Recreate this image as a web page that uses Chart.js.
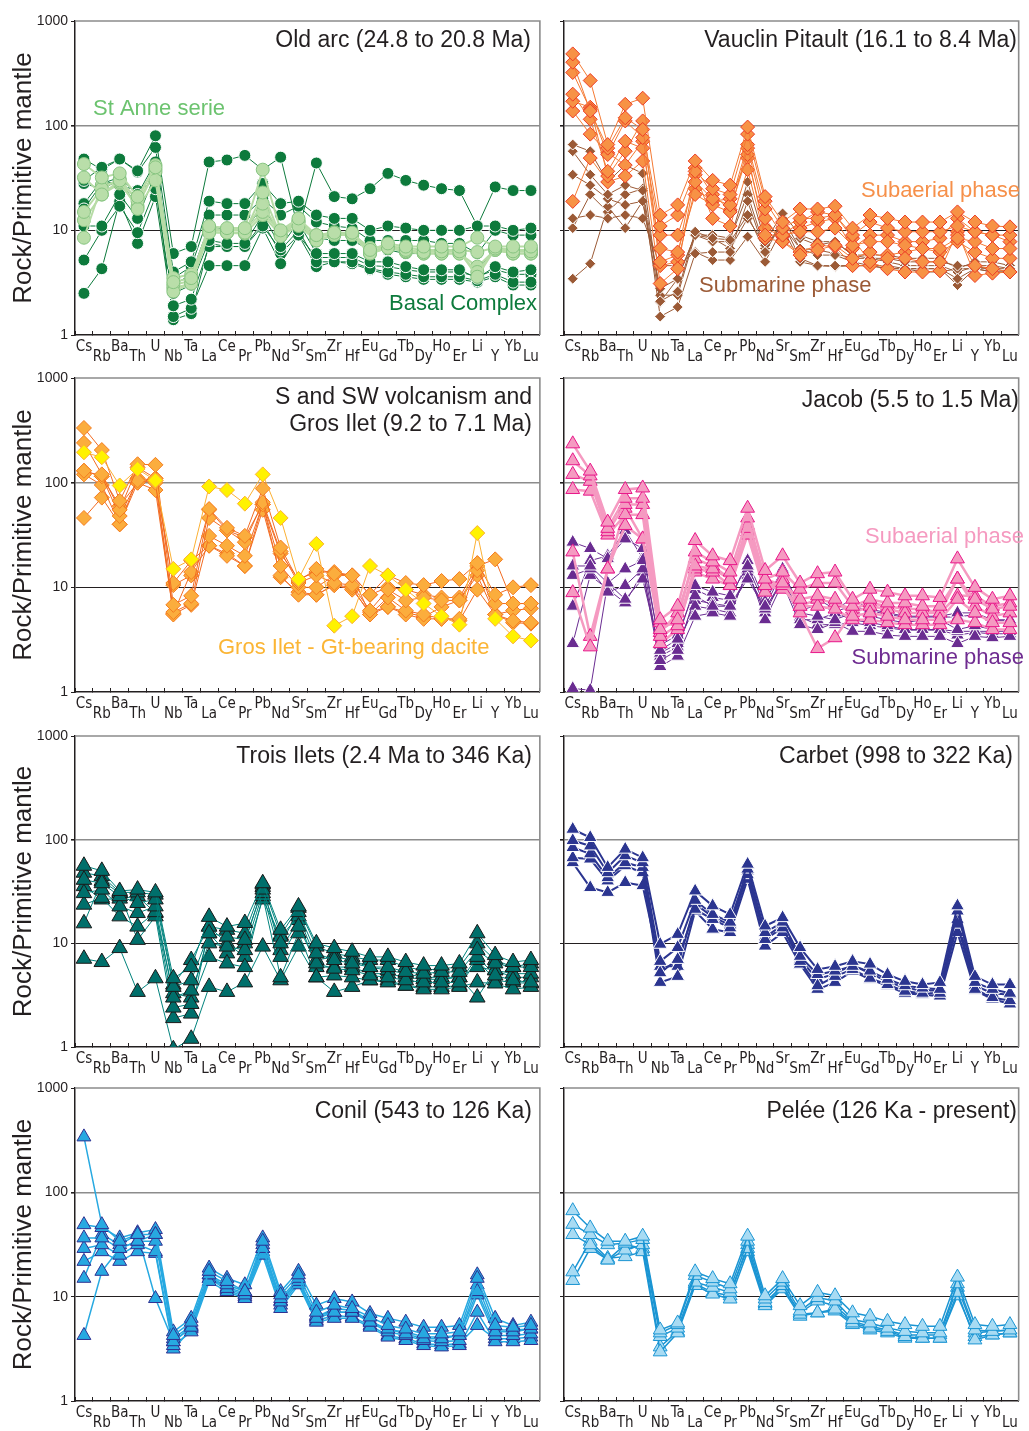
<!DOCTYPE html>
<html>
<head>
<meta charset="utf-8">
<script src="https://cdn.jsdelivr.net/npm/chart.js@4.4.1/dist/chart.umd.min.js"></script>
<style>
  body { margin: 0; background: #fff; }
  canvas { position: absolute; }
</style>
</head>
<body>
<script>
const elements = ['Cs','Rb','Ba','Th','U','Nb','Ta','La','Ce','Pr','Pb','Nd','Sr','Sm','Zr','Hf','Eu','Gd','Tb','Dy','Ho','Er','Li','Y','Yb','Lu'];
const yTicks = [1, 10, 100, 1000];

// Old arc
const basalComplex = [
  [30,40,48,37,80,6,7,45,47,52,38,50,10,44,21,20,25,35,30,27,25,24,11,26,24,24],
  [48,38,48,36,62,4,5,19,18,18,28,18,19,14,13,13,10,11,10.5,10,10,10,11,11,10,10.5],
  [16,28,32,22,45,3.5,4.5,14,14,14,20,14,17,12,11,10.5,8,8,8,8,7.5,7.5,6,10,9,9],
  [11,11,22,13,35,2.5,3,8,7.5,7.5,14,7,12,6,6,6,5,5,4.5,4.2,4.2,4.2,3.5,4.5,4,4.2],
  [5.2,10,17,9.5,25,1.9,2.2,7,7,7,11,6.5,10,5,5,5,4.3,4,3.8,3.6,3.6,3.6,3.3,3.8,3.2,3.2],
  [2.5,4.3,19,7.5,21,1.5,1.8,4.6,4.6,4.6,10.5,4.8,9,4.5,5,4.8,4.2,3.8,3.6,3.4,3.4,3.4,3.2,3.6,3,3],
  [28,25,30,17,40,3,3.8,11,10,10,17,9,11,8.5,8,8,6.5,6.5,6,6,6,6,4,7,6,6],
  [18,30,27,24,30,1.4,1.6,7.5,7,7,12,6,9,5.5,5.5,5.5,4.6,4.5,4.2,4,4,4,3.6,4.2,3.8,3.8]
];
const stAnne = [
  [43,32,35,21,40,3.2,3.5,11,10.5,10.5,38,10,13,9,9.5,9.5,6.5,7.5,7,7,7,7,8.5,7,7,7],
  [32,22,30,16,30,2.6,3.1,9.5,9.5,9.5,23,8.8,11,8,9,9,6,6.8,6.5,6.2,6.3,6.3,3.6,6.7,6.3,6.3],
  [15,25,31,19,36,3.5,3.8,10,10,10,18,9,12,8.5,9.3,9.2,6.8,7,6.8,6.5,6.5,6.5,6.2,6.8,6.5,6.5],
  [8.5,27,29,20,42,3,3.3,10.5,10,10,15,9.5,12.5,9,9.6,9.3,6.2,7.2,6.3,6,6,6,4,6.5,6,6],
  [12.5,22,28,17,38,2.8,3.1,9.7,9.5,9.3,14,9,12,8,9,9,6,6.8,6.2,6,6,6,4.5,6.5,6,6]
];

// Vauclin Pitault
const vpSubaerial = [
  [485,270,66,160,183,14,17.5,46,30,27,97,21,12,16,16,17,10.5,14,13,12,12,12,15,12,11,10.8],
  [404,138,61,119,92,11,14,36.6,25,22,83,19,10.5,13,13,14,9,12,10.5,9.7,9.7,9.7,11,9.7,9,9],
  [322,143,53,111,77,9,9,29,20,17.5,66,16,9,9.7,9.7,10.5,7.2,7.8,7.8,7.2,6.7,6.7,8.4,7.8,6.7,6.7],
  [200,115,36.6,71,61,6.7,6.2,22,17.5,15,61,13,7.8,5.8,6.5,7.2,5.4,6.2,5.4,5.4,5,5,9,4.6,4.3,4],
  [171,150,33,57,111,5,5.8,39.4,22,15.7,53,9,9,12,15,14,8.4,5,4.3,4,4,4.1,9.7,3.7,3.9,4],
  [18.9,49,29,33,46,3.1,4.3,34,13,11,38,8.4,7.8,6.2,7.2,7,4.6,4.6,5.8,6.2,6.7,6.2,7.8,6.2,5.4,5.4],
  [138,83,55,42,71,4.6,5,25,19,20,49,10.5,8.7,10.5,12,13,6.7,9,9,7.8,7.8,8.4,13,9.7,9,7.8]
];
const vpSubmarine = [
  [66,57,29,42,35,2.1,2.6,9.7,8.4,8.1,29,7.8,14.5,9,7.8,7.8,5.8,5.4,5.4,5,5,5,4.6,4.6,4.6,4.3],
  [57,34,22,27,24,1.5,1.85,6,6.2,6.2,19,6.2,13,6.7,5.8,5.8,5,4.6,4.6,4.3,4.3,4.3,3.45,4.3,4,4],
  [34,27,20,17.5,19,2.06,3.45,9,7.8,7.8,14,6.2,12,5.4,4.6,4.6,4.6,4.6,4.3,4.3,4.3,4.3,3,4.3,4.3,4],
  [13,14,13,14,13,4.6,4.6,6.2,5.2,5.2,8.7,5,10.5,5,4.6,4.5,4.6,4.6,4.3,4.3,4,4,4.3,4.3,4,4],
  [3.45,4.8,16.9,10.5,19,2.77,3.45,9,8.4,6.7,13,7.2,11,6.7,6.5,6,5.4,5.4,5,4.6,4.6,4.6,4,4.5,4.3,4.3],
  [10.5,22,15,22,25,2.4,2.4,9,9,8.4,22,6.7,12,8.4,7.2,7.8,5.8,5.8,5.8,5.4,5.4,5.4,4.3,5,5,4.6]
];

// S and SW volcanism and Gros Ilet
const sswVolcanism = [
  [333,205,67,150,148,6.8,8.3,56,37,31,88,24,11.5,15,13.5,13,8.5,13,11,10.5,11.5,12,17,8.5,10,10.5],
  [240,120,55,140,110,5.8,7,46,35,27,65,22,11,13,11,10.5,6,9.5,7.5,8,7.5,7.5,14.5,7,7,7],
  [130,115,48,105,100,5.5,6.8,31,25,20,62,16,10,10,13,13,5.5,8,6,5.5,5,5,17,5.5,4.8,4.6],
  [120,95,40,100,85,5.6,14,25,20,16,55,13,8.5,8.5,10.5,10,5.5,6.5,5.5,5,5,4.8,9.5,5.5,4.6,4.5],
  [46,72,40,110,105,11,18,25,21,16,62,12.5,9,8.5,10.5,9.5,5.8,6.5,5.8,5.2,6.5,7.5,13,5.5,6,6.3],
  [130,115,60,100,110,10.5,13,55,35,30,62,21,12,14,14,13,8.5,10,9.5,8.5,8,8,16,18.5,7,7]
];
const grosIletDacite = [
  [195,175,94,135,105,15,18.5,92,85,63,120,46,12,26,4.3,5.3,16,13,9.5,7,5.3,4.4,33,5,3.4,3.1]
];

// Jacob
const jacobSubaerial = [
  [235,129,42,86,89,4.9,6.6,28,20,18,57,14.5,20,11,13.5,14,7.7,9.6,9,8.3,8.3,8,18.7,10,7.7,8.3],
  [162,116,36.6,71,71,3.95,4.9,21.8,17.5,14,46,12,14,9.6,11,11,6.6,7.7,7.1,7.1,6.6,6.6,12,7.7,6.2,6.6],
  [120,103,34,62,62,3.4,4.3,16,15,12,36.6,10.4,11,7.7,8.3,7.7,5.3,5.7,5.3,4.9,4.9,4.9,7.7,5.7,4.6,4.6],
  [86,83,31.6,49.5,49.5,2.9,3.95,15,14,10.4,31.6,9,12,6.6,6.6,6.2,4.9,4.9,4.6,4.4,4.4,4.4,4.9,4.6,3.95,3.95],
  [8.9,2.7,15,39,29,3.7,5.7,18.7,16,12,39,12,10.4,5.7,2.6,3.3,5.7,6.6,6.2,5.7,5.7,5.7,8.3,8.3,6.6,7.1],
  [21.8,3.4,15,57,29,4.6,4.3,14,12,10.4,34,10.4,9.6,6.6,7.7,7.1,6.2,7.1,6.6,6.2,6.2,5.7,12,6.6,5.3,5.7]
];
const jacobSubmarine = [
  [27,23.5,18.8,29,23.5,2.5,3.2,10.4,9,8.3,16,6.6,14,6.6,7.7,6.2,7.7,6.2,5.7,5.3,5.3,5.3,5.7,5.7,4.9,4.9],
  [16,16,11,15,18,2,2.5,8.3,6.6,6.6,12,6.2,12,5.7,5.3,4.9,5.7,5.3,4.9,4.6,4.9,4.9,3.95,4.3,3.95,3.95],
  [13,15,9,10.4,15,1.75,2.2,5.3,5.7,5.3,15,4.9,11,4.4,3.95,4.6,3.8,3.8,3.5,3.4,3.4,3.4,2.9,3.4,3.3,3.4],
  [1.08,1.04,11,7.7,12,2.35,2.9,6.6,6.2,5.7,14,5.7,12,4.9,4.9,5.7,4.9,4.6,4.3,3.95,3.95,3.95,3.8,3.8,3.8,3.8],
  [2.9,13,9.6,7.1,14,2.2,2.7,7.5,7,6.6,13,6.4,11,5.2,4.4,4.4,4.6,4.3,4.1,3.9,3.9,3.9,3.5,3.7,3.6,3.6],
  [6.6,18,20,35,19,2.8,3.5,9.5,8,7.5,18,7.3,15,6,6.8,5.9,6.6,6,5.5,5.2,5.2,5.2,5.2,5.5,4.8,4.8]
];

// Trois Ilets
const troisIlets = [
  [56,50,32,33,31,4.6,5.9,18,14.5,15.7,38,13.5,22.7,10,9,8.3,7.4,7.4,6.6,6.1,6.1,6.4,12.5,7.7,6.6,6.9],
  [41,38,28.5,24.5,26.5,3.8,4.4,12.5,11.6,10.8,33,10,20,8,6.9,6.4,5.9,5.9,5.3,5.1,5.3,5.3,8.6,6.4,5.9,5.9],
  [30.5,33,22.7,19.6,22.7,3,3.5,10,9.3,8.6,30.5,7.4,14.5,6.4,5.7,5.5,4.9,4.7,4.4,4.2,4.2,4.2,7.4,4.9,4.4,4.2],
  [23.6,27.5,18.2,14.5,20,2.4,2.6,7.4,6.4,5.9,28.5,4.7,12.5,4.7,4.9,4.7,4.4,4.2,3.9,3.6,3.6,3.8,4.2,4.1,3.6,3.8],
  [15.6,40,30.5,10.8,18.2,1.9,2.1,14.5,10,7.4,26.5,11.6,18.2,6.9,7.4,6.9,5.9,5.5,5.1,4.7,4.7,4.7,3,5.5,5.1,5.1],
  [7.1,6.6,9,3.4,4.6,0.95,1.2,3.8,3.4,4.2,9.3,4.4,9.3,4.7,3.4,3.8,4.4,4.4,3.9,3.8,3.8,3.9,6.9,4.4,4.2,4.1],
  [48,44.5,31,31,29.5,4,6.9,14.5,13.5,12.5,37,12,22,9.3,8,7.4,6.9,6.9,5.9,5.5,5.7,5.9,10,6.9,5.9,6.4],
  [35.6,26.5,27,28.5,19.6,3.3,3,12.5,8,10,35,8.6,16.8,5.9,5.9,5.9,5.1,5.1,4.7,4.5,4.5,4.7,5.9,5.5,4.7,4.7]
];

// Carbet
const carbet = [
  [126,105,54,81,67,9.8,12.2,32,23,19,58,14.7,17.7,9.1,5.6,6,6.7,6.3,5,4.3,4,4.2,23,4.8,4,4],
  [98,87,48,70,60,6.7,9.1,26,19,16,52,12.7,16,7.5,5,5.4,6,5.4,4.5,3.9,3.7,3.6,20.5,4.2,3.6,3.3],
  [84,73,43,60,54,5.2,7,21.3,17,14.1,46,10.9,14.1,6.7,3.9,4.8,5.6,4.6,4,3.45,3.3,3.3,15.3,3.6,3,2.8],
  [67,65,40,56,48,4.2,4.8,20.5,13.7,12.7,41.5,9.4,12.7,6.3,3.6,4.2,5.4,4.5,3.9,3.3,3.2,3.1,12.7,3.5,2.9,2.6],
  [60,34.5,31,38.6,36,6,6,24,18,15,50,11.5,15,7,4.5,5.1,6.2,5.1,4.3,3.7,3.5,3.5,17,3.9,3.3,3.2]
];

// Conil
const conil = [
  [340,49,34,39.5,39.5,4.25,5.7,17.5,14,11.2,34,10.4,16.2,7.1,8.3,7.7,6.4,5.3,4.9,4.4,4.4,4.6,15,5.3,5.1,5.3],
  [4.25,17.5,29,34,39.5,3.7,5.1,16.2,13,11.2,29,9.6,15,6.2,7.1,7.1,5.7,4.9,4.4,3.95,3.95,4.25,11.2,4.6,4.6,4.9],
  [49,46,36.6,41,44,4.6,6.2,18.8,15,13,36.6,11.2,17.5,8.3,9.6,8.9,6.9,6.2,5.7,5.1,5.1,5.3,16.2,6.2,5.3,5.7],
  [36.6,36.6,29,34,34,3.95,5.3,16.2,12,10.4,29,8.9,14,6.6,7.1,7.1,5.7,4.6,4.25,3.8,3.7,3.8,10.4,4.25,4.25,4.4],
  [29,31.5,25,31.5,27,3.4,4.6,14,11.2,9.6,25,7.7,13,5.7,6.2,6.2,5.1,4.1,3.8,3.4,3.3,3.4,7.1,3.7,3.7,3.8],
  [21.8,27,21.8,27,26,3.15,4.9,15,11.6,10,27,8.3,13.6,5.9,6.6,6.4,5.3,4.25,3.95,3.55,3.45,3.55,5.3,3.95,3.95,4.1],
  [15,39.5,31.5,39.5,9.6,3.7,5.1,15,12.3,10.8,31.5,9.1,14.5,6.4,7.7,7.4,5.9,4.8,4.6,4.1,4.1,4.25,13,4.8,4.8,4.9]
];

// Pelée
const pelee = [
  [66.7,45.6,34,34,38,4.8,5.6,17.3,14.9,13.3,38,10.2,14.9,8.2,11,10.2,7,6.5,5.8,5.4,5.2,5.2,15.4,5.4,5.2,5.4],
  [49.4,39.4,31.5,32.6,35.3,4.5,5.4,16,13.8,11.9,34,9.5,13.8,7.3,9.8,9.1,6.05,5.6,5,4.65,4.5,4.5,13.3,4.8,4.65,4.8],
  [39.4,31.5,22.5,28,31.5,4.15,5,13.8,12.3,11,29,8.8,12.8,6.8,7,7.6,5.6,5,4.65,4.15,4,4,11,3.85,4.3,4.5],
  [17.3,34,23.3,24.2,27,2.96,4.5,12.8,10.6,9.5,27,8.2,11.9,6.5,7,7.3,5.4,4.8,4.5,4,4,4,10.2,4.15,4.3,4.5],
  [14.3,29,22.5,31.5,29,3.3,4.65,13.3,11,10.2,31.5,8.5,12.3,7,9.1,8.2,5.8,5.2,4.8,4.3,4.3,4.3,12.3,4.5,4.65,4.8]
];

Chart.defaults.font.family = '"Liberation Sans", Arial, sans-serif';
const ink = '#231f20';
const narrow = '"Liberation Sans Narrow", "DejaVu Sans Condensed", "Liberation Sans", Arial, sans-serif';

const styles = {
  basal:  {line:'#0d7a3c', lw:1,   shape:'circle',   r:6,   fill:'#0d7a3c', edge:'#ffffff'},
  stAnne: {line:'#b7dca6', lw:2,   shape:'circle',   r:6.5, fill:'#b9dea9', edge:'#86c480'},
  vpAir:  {line:'#f47a34', lw:1,   shape:'rectRot',  r:7,   fill:'#f79245', edge:'#ec3b25'},
  vpSea:  {line:'#9b5a36', lw:1,   shape:'rectRot',  r:5.5, fill:'#9b5a36', edge:'#ffffff'},
  ssw:    {line:'#f26b22', lw:1,   shape:'rectRot',  r:7.5, fill:'#fbad3d', edge:'#f47c20'},
  dacite: {line:'#fbb034', lw:1,   shape:'rectRot',  r:7.5, fill:'#fff200', edge:'#fbb034'},
  jAir:   {line:'#f59ac1', lw:2.5, shape:'triangle', r:8,   fill:'#f59ac1', edge:'#e8178a'},
  jSea:   {line:'#6a2c91', lw:1,   shape:'triangle', r:8,   fill:'#6a2c91', edge:'#ffffff'},
  trois:  {line:'#00827c', lw:1,   shape:'triangle', r:9,   fill:'#006f6b', edge:'#1a1a1a'},
  carbet: {line:'#2b3590', lw:2,   shape:'triangle', r:8,   fill:'#2b3590', edge:'#ffffff'},
  conil:  {line:'#27a9e1', lw:1.5, shape:'triangle', r:8,   fill:'#27a9e1', edge:'#2e3192'},
  pelee:  {line:'#1b95d3', lw:1.5, shape:'triangle', r:8,   fill:'#a8dbf3', edge:'#1b95d3'}
};

const cols = [
  {left:0,   width:550, yWidth:75, padRight:5, labels:true},
  {left:550, width:479, yWidth:14, padRight:2, labels:false}
];
const rows = [[21,335],[378,692],[736,1047],[1088,1401]];

const panels = [
  {col:0, row:0, groups:[[stAnne,'stAnne'],[basalComplex,'basal']], notes:[
    {text:'Old arc (24.8 to 20.8 Ma)', x:531, y:41, size:23},
    {text:'St Anne serie', x:93, y:109, size:22, align:'left', color:'#6cc36f'},
    {text:'Basal Complex', x:537, y:304, size:22, color:'#0d7a3c'}]},
  {col:1, row:0, groups:[[vpSubaerial,'vpAir'],[vpSubmarine,'vpSea']], notes:[
    {text:'Vauclin Pitault (16.1 to 8.4 Ma)', x:1017, y:41, size:23},
    {text:'Subaerial phase', x:1020, y:191, size:22, color:'#f6904a'},
    {text:'Submarine phase', x:699, y:286, size:22, align:'left', color:'#9b5a36'}]},
  {col:0, row:1, groups:[[grosIletDacite,'dacite'],[sswVolcanism,'ssw']], notes:[
    {text:'S and SW volcanism and', x:532, y:398, size:23},
    {text:'Gros Ilet (9.2 to 7.1 Ma)', x:532, y:425, size:23},
    {text:'Gros Ilet - Gt-bearing dacite', x:218, y:648, size:22, align:'left', color:'#fbb535'}]},
  {col:1, row:1, groups:[[jacobSubaerial,'jAir'],[jacobSubmarine,'jSea']], notes:[
    {text:'Jacob (5.5 to 1.5 Ma)', x:1019, y:401, size:23},
    {text:'Subaerial phase', x:1024, y:537, size:22, color:'#f59ac0'},
    {text:'Submarine phase', x:1024, y:658, size:22, color:'#6f2c91'}]},
  {col:0, row:2, groups:[[troisIlets,'trois']], notes:[
    {text:'Trois Ilets (2.4 Ma to 346 Ka)', x:532, y:757, size:23}]},
  {col:1, row:2, groups:[[carbet,'carbet']], notes:[
    {text:'Carbet (998 to 322 Ka)', x:1013, y:757, size:23}]},
  {col:0, row:3, groups:[[conil,'conil']], notes:[
    {text:'Conil (543 to 126 Ka)', x:532, y:1112, size:23}]},
  {col:1, row:3, groups:[[pelee,'pelee']], notes:[
    {text:'Pelée (126 Ka - present)', x:1017, y:1112, size:23}]}
];

function lineSets(samples, st) {
  return samples.map(values => ({
    data: values,
    borderColor: st.line,
    borderWidth: st.lw,
    pointStyle: st.shape,
    pointRadius: st.r,
    pointBackgroundColor: st.fill,
    pointBorderColor: st.edge,
    pointBorderWidth: 1,
    tension: 0,
    fill: false
  }));
}

const framePlugin = {
  id: 'frame',
  beforeDatasetsDraw(chart) {
    const {ctx, chartArea: a} = chart;
    ctx.save();
    ctx.strokeStyle = '#8c8c8c';
    ctx.lineWidth = 1.6;
    ctx.beginPath();
    ctx.moveTo(a.left, a.top);
    ctx.lineTo(a.right, a.top);
    ctx.lineTo(a.right, a.bottom);
    ctx.stroke();
    ctx.restore();
  },
  afterDraw(chart, args, opts) {
    const ctx = chart.ctx;
    ctx.save();
    ctx.textBaseline = 'middle';
    opts.items.forEach(n => {
      ctx.font = n.size + 'px "Liberation Sans", Arial, sans-serif';
      ctx.fillStyle = n.color || ink;
      ctx.textAlign = n.align || 'right';
      ctx.fillText(n.text, n.x - opts.left, n.y - opts.top);
    });
    ctx.restore();
  }
};

panels.forEach(p => {
  const col = cols[p.col];
  const [top, bottom] = rows[p.row];
  const canvas = document.createElement('canvas');
  const cTop = top - 12;
  canvas.width = col.width;
  canvas.height = bottom - top + 12 + 40;
  canvas.style.left = col.left + 'px';
  canvas.style.top = cTop + 'px';
  document.body.appendChild(canvas);

  let datasets = [];
  p.groups.forEach(([samples, key]) => { datasets = datasets.concat(lineSets(samples, styles[key])); });

  new Chart(canvas, {
    type: 'line',
    data: { labels: elements, datasets },
    options: {
      responsive: false,
      animation: false,
      devicePixelRatio: 1,
      events: [],
      layout: { padding: { top: 12, right: col.padRight, left: 0, bottom: 0 } },
      plugins: {
        legend: { display: false },
        tooltip: { enabled: false },
        frame: { items: p.notes, left: col.left, top: cTop }
      },
      scales: {
        x: {
          type: 'category',
          offset: true,
          afterFit: s => { s.height = 40; },
          border: { color: ink, width: 1.5 },
          // short tick marks between elements, pointing up into the plot
          grid: { offset: true, drawOnChartArea: false, tickLength: -4, color: ink },
          ticks: {
            autoSkip: false, maxRotation: 0, minRotation: 0, padding: 11,
            color: ink, font: { family: narrow, size: 15, lineHeight: 0.65 },
            callback: (v, i) => i % 2 ? ['', elements[i]] : elements[i]
          }
        },
        y: {
          type: 'logarithmic',
          min: 1, max: 1000,
          afterBuildTicks: s => { s.ticks = yTicks.map(v => ({ value: v })); },
          afterFit: s => { s.width = col.yWidth; },
          border: { color: ink, width: 1.5 },
          grid: {
            color: c => c.tick.value === 10 ? ink : (c.tick.value === 100 ? '#8c8c8c' : 'rgba(0,0,0,0)'),
            lineWidth: c => c.tick.value === 100 ? 1.6 : 1,
            tickColor: ink, tickLength: 4
          },
          ticks: { display: col.labels, color: ink, font: { size: 14 }, padding: 3, callback: v => String(v) },
          title: { display: col.labels, text: 'Rock/Primitive mantle', color: ink, font: { size: 26 }, padding: { top: 8, bottom: 0 } }
        }
      }
    },
    plugins: [framePlugin]
  });
});
</script>
</body>
</html>
